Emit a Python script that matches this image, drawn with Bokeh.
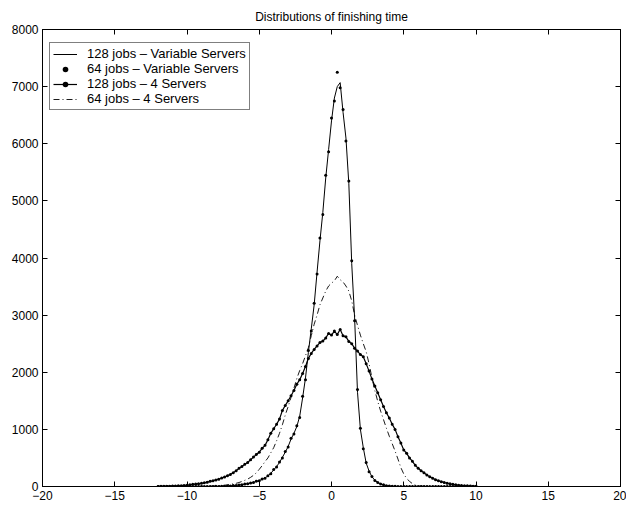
import numpy as np
from bokeh.plotting import figure
from bokeh.models import Range1d, LinearAxis, FixedTicker, Legend, LegendItem
from bokeh.embed import file_html
from bokeh.resources import INLINE

FONT = "Liberation Sans"

title_text = "Distributions of finishing time"
x_ticks = [-20, -15, -10, -5, 0, 5, 10, 15, 20]
y_ticks = [0, 1000, 2000, 3000, 4000, 5000, 6000, 7000, 8000]

# finishing-time bins (centres), -12 .. 10 in steps of 0.2
t = np.round(np.arange(-12.0, 10.0001, 0.2), 1)

labels = ["128 jobs \u2013 Variable Servers", "64 jobs \u2013 Variable Servers",
          "128 jobs \u2013 4 Servers", "64 jobs \u2013 4 Servers"]

var128 = [0, 0, 0, 0, 0, 0, 0, 0, 0, 0,
          0, 0, 0, 0, 0, 0, 1, 1, 1, 2,
          2, 3, 4, 6, 8, 11, 15, 20, 26, 33,
          40, 50, 60, 72, 88, 105, 125, 150, 185, 230,
          290, 350, 420, 510, 600, 700, 830, 930, 1050, 1230,
          1550, 1900, 2350, 2760, 3180, 3750, 4300, 4800, 5400, 5900,
          6400, 6800, 7000, 7070, 6550, 6100, 5300, 3900, 2950, 1650,
          1000, 680, 410, 270, 170, 110, 70, 45, 28, 16,
          9, 5, 3, 2, 1, 0, 0, 0, 0, 0,
          0, 0, 0, 0, 0, 0, 0, 0, 0, 0,
          0, 0, 0, 0, 0, 0, 0, 0, 0, 0,
          0]

var64 = [0, 0, 0, 0, 0, 0, 0, 0, 0, 0,
         0, 0, 0, 0, 1, 0, 1, 2, 1, 2,
         3, 2, 5, 5, 9, 10, 16, 19, 28, 31,
         43, 48, 63, 70, 92, 100, 130, 146, 190, 222,
         298, 342, 430, 500, 612, 690, 845, 920, 1065, 1210,
         1580, 1870, 2380, 2720, 3210, 3720, 4350, 4760, 5450, 5860,
         6450, 6750, 7250, 6980, 6600, 6050, 5350, 3950, 2900, 1700,
         1020, 660, 420, 260, 175, 105, 72, 42, 30, 14,
         10, 4, 3, 1, 1, 0, 0, 0, 0, 0,
         0, 0, 0, 0, 0, 0, 0, 0, 0, 0,
         0, 0, 0, 0, 0, 0, 0, 0, 0, 0,
         0]

fix128 = [2, 3, 4, 5, 6, 8, 9, 11, 14, 18,
          24, 30, 38, 42, 50, 55, 66, 75, 90, 100,
          115, 128, 148, 165, 190, 212, 240, 275, 318, 352,
          388, 420, 468, 515, 560, 600, 668, 720, 820, 930,
          1010, 1090, 1180, 1330, 1420, 1500, 1590, 1680, 1790, 1870,
          1980, 2100, 2240, 2330, 2400, 2460, 2520, 2545, 2600, 2680,
          2650, 2720, 2660, 2750, 2640, 2620, 2540, 2500, 2420, 2370,
          2310, 2270, 2150, 2020, 1880, 1760, 1640, 1520, 1400, 1290,
          1200, 1090, 1000, 870, 760, 640, 580, 500, 440, 370,
          320, 275, 240, 200, 170, 145, 120, 100, 85, 70,
          58, 46, 38, 30, 24, 19, 15, 11, 8, 6,
          4]

fix64 = [0, 0, 0, 0, 0, 0, 0, 0, 0, 0,
         0, 0, 1, 1, 1, 2, 3, 4, 5, 7,
         9, 12, 16, 22, 30, 38, 46, 56, 70, 88,
         108, 130, 160, 195, 240, 300, 365, 435, 500, 590,
         680, 800, 930, 1080, 1250, 1400, 1560, 1720, 1890, 2030,
         2150, 2290, 2430, 2640, 2840, 3000, 3180, 3300, 3420, 3510,
         3560, 3600, 3680, 3620, 3580, 3510, 3420, 3250, 3000, 2820,
         2650, 2500, 2360, 2150, 1900, 1680, 1490, 1320, 1170, 1020,
         880, 750, 620, 480, 330, 220, 140, 90, 50, 25,
         12, 6, 3, 1, 0, 0, 0, 0, 0, 0,
         0, 0, 0, 0, 0, 0, 0, 0, 0, 0,
         0]

p = figure(width=626, height=505, output_backend="svg", toolbar_location=None,
           x_range=Range1d(-20, 20), y_range=Range1d(0, 8000),
           min_border_left=42, min_border_right=6, min_border_top=29,
           min_border_bottom=19)

p.xgrid.visible = False
p.ygrid.visible = False
p.outline_line_color = "black"
p.outline_line_width = 1
p.background_fill_color = "white"
p.border_fill_color = "white"

p.title.text = title_text
p.title.align = "center"
p.title.text_font = FONT
p.title.text_font_size = "12px"
p.title.text_font_style = "normal"
p.title.text_color = "black"
p.title.standoff = 12

p.add_layout(LinearAxis(), "above")
p.add_layout(LinearAxis(), "right")

for ax in p.xaxis:
    ax.ticker = FixedTicker(ticks=x_ticks)
for ax in p.yaxis:
    ax.ticker = FixedTicker(ticks=y_ticks)

for ax in p.xaxis + p.yaxis:
    ax.major_tick_in = 5
    ax.major_tick_out = 0
    ax.minor_tick_line_color = None
    ax.axis_line_color = "black"
    ax.axis_line_width = 1
    ax.major_tick_line_color = "black"
    ax.major_label_text_font = FONT
    ax.major_label_text_font_size = "12px"
    ax.major_label_text_color = "black"
    ax.major_label_standoff = 4

for ax in (p.above[-1], p.right[-1]):
    ax.major_label_text_color = None
    ax.major_label_text_font_size = "0px"
    ax.major_label_standoff = 0

rA = p.line(t, var128, line_color="black", line_width=1)
rB = p.scatter(t, var64, marker="circle", size=3, fill_color="black", line_color=None)
rC = p.line(t, fix128, line_color="black", line_width=1.2)
rCd = p.scatter(t, fix128, marker="circle", size=3, fill_color="black", line_color=None)
rD = p.line(t, fix64, line_color="black", line_width=0.9, line_dash="6 3 1 3")

legend = Legend(items=[
    LegendItem(label=labels[0], renderers=[rA]),
    LegendItem(label=labels[1], renderers=[rB]),
    LegendItem(label=labels[2], renderers=[rC, rCd]),
    LegendItem(label=labels[3], renderers=[rD]),
], location=(7, 376))
legend.border_line_color = "black"
legend.border_line_width = 1
legend.background_fill_color = "white"
legend.background_fill_alpha = 1
legend.label_text_font = FONT
legend.label_text_font_size = "13px"
legend.label_text_color = "black"
legend.glyph_width = 24
legend.glyph_height = 14
legend.label_height = 14
legend.spacing = 0
legend.padding = 3
legend.margin = 0
legend.label_standoff = 10
p.add_layout(legend)

open("out.html", "w").write(file_html(p, INLINE))
